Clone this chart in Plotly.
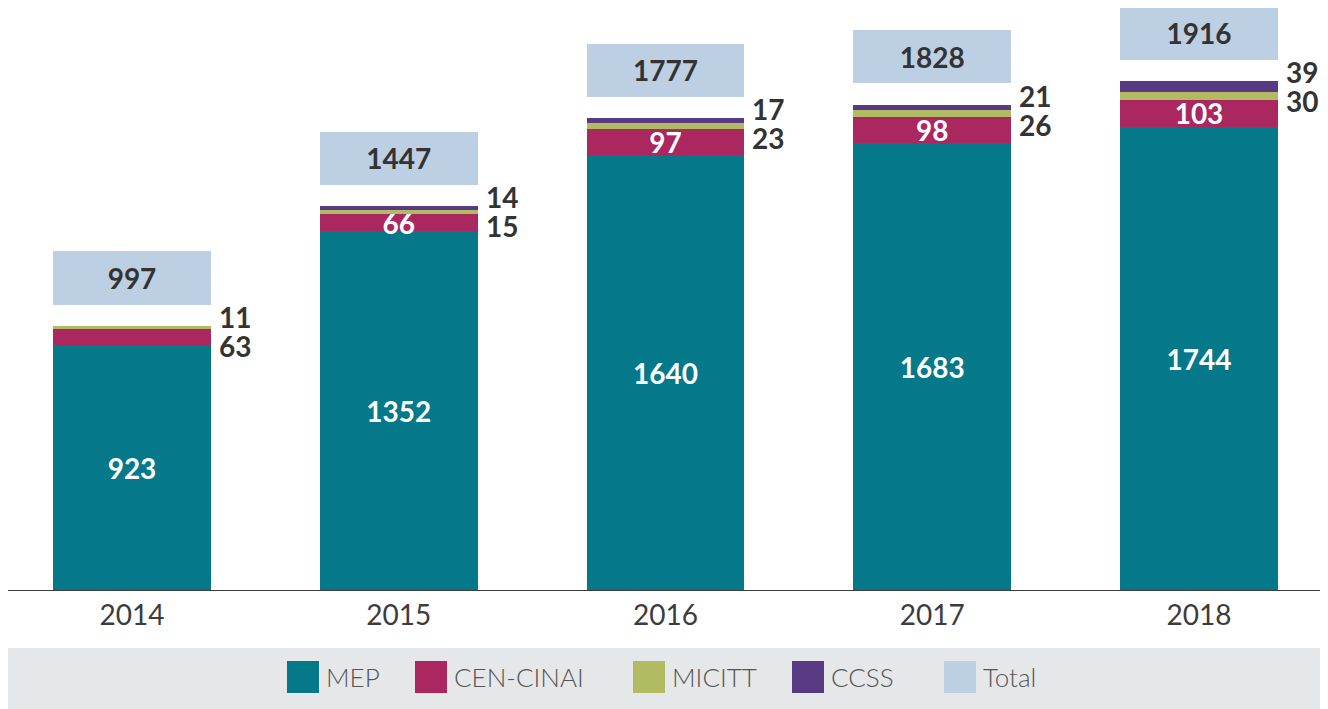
import plotly.graph_objects as go

# ---- data ----
years = ["2014", "2015", "2016", "2017", "2018"]
mep = [923, 1352, 1640, 1683, 1744]
cen_cinai = [63, 66, 97, 98, 103]
micitt = [11, 15, 23, 26, 30]
ccss = [0, 14, 17, 21, 39]
total = [997, 1447, 1777, 1828, 1916]
series_names = ["MEP", "CEN-CINAI", "MICITT", "CCSS", "Total"]

# ---- styles ----
colors = ["#05788a", "#ab2760", "#b0bb64", "#583a83", "#bccfe3"]
DARK = "#333333"
FONT = "Lato"
LIGHT_FONT = "Lato Light, Lato"
NUM_SIZE = 28
BAR_W = 0.592
GAP_UNITS = 80      # white gap between stack top and total box
BOX_UNITS = 200     # height of total box
W, H = 1320, 701    # page body adds an 8px margin
AXIS_PX = 583       # pixel row of the x axis inside the figure
PLOT_B = H - AXIS_PX
Y_TOP = AXIS_PX / 0.266
CENTER0 = 124
STEP = 266.75

series_vals = [mep, cen_cinai, micitt, ccss]
n = len(years)

# which small segments are labelled outside (the top two non-zero ones above MEP)
outside = {}
for j in range(n):
    outside[j] = [k for k in (3, 2, 1) if series_vals[k][j] > 0][:2]

fig = go.Figure()
for k in range(4):
    texts = []
    for j in range(n):
        v = series_vals[k][j]
        texts.append(str(v) if (v > 0 and k not in outside[j]) else "")
    fig.add_bar(
        x=years, y=series_vals[k], name=series_names[k], width=BAR_W,
        marker=dict(color=colors[k], line=dict(width=0)),
        text=texts, textposition="inside", insidetextanchor="middle", textangle=0,
        textfont=dict(family=FONT, size=NUM_SIZE, color="white", weight="bold"),
        showlegend=False, hoverinfo="x+y+name",
    )

# transparent spacer, then total box stacked on top
fig.add_bar(x=years, y=[GAP_UNITS] * n, width=BAR_W,
            marker=dict(color="rgba(0,0,0,0)", line=dict(width=0)),
            showlegend=False, hoverinfo="skip")
fig.add_bar(
    x=years, y=[BOX_UNITS] * n, name="Total", width=BAR_W,
    marker=dict(color=colors[4], line=dict(width=0)),
    text=[str(t) for t in total], textposition="inside", insidetextanchor="middle",
    textangle=0, textfont=dict(family=FONT, size=NUM_SIZE, color=DARK, weight="bold"),
    showlegend=False, hovertext=[str(t) for t in total], hoverinfo="x+text",
)

annotations = []
for j in range(n):
    top = sum(series_vals[k][j] for k in range(4))
    for pos, k in enumerate(outside[j]):
        annotations.append(dict(
            x=j + BAR_W / 2, y=top, xref="x", yref="y",
            text=str(series_vals[k][j]), showarrow=False,
            xanchor="left", yanchor="middle", xshift=6,
            yshift=9 if pos == 0 else -20,
            font=dict(family=FONT, size=NUM_SIZE, color=DARK, weight="bold"),
        ))

# custom legend (pixel positions inside the figure)
legend_x = [279, 407, 625, 784, 936]
SW = 32
leg_top, leg_bot = 653, 685
band_top = 640


def py(p):
    return -(p - AXIS_PX) / AXIS_PX


shapes = [
    dict(type="rect", xref="paper", yref="paper", x0=0, x1=1,
         y0=py(H), y1=py(band_top),
         fillcolor="#e6e7e9", line=dict(width=0), layer="below"),
    dict(type="line", xref="paper", yref="y", x0=0, x1=1, y0=0, y1=0,
         line=dict(color="#3c3c3c", width=2), layer="above"),
]
for i, name in enumerate(series_names):
    x0 = legend_x[i]
    shapes.append(dict(type="rect", xref="paper", yref="paper",
                       x0=x0 / W, x1=(x0 + SW) / W,
                       y0=py(leg_bot), y1=py(leg_top),
                       fillcolor=colors[i], line=dict(width=0)))
    annotations.append(dict(
        x=(x0 + SW + 5) / W, y=py((leg_top + leg_bot) / 2),
        xref="paper", yref="paper", text=name, showarrow=False,
        xanchor="left", yanchor="middle",
        font=dict(family=LIGHT_FONT, size=26, color="#555555", weight=300),
    ))

fig.update_layout(
    width=W, height=H, barmode="stack",
    margin=dict(l=0, r=0, t=0, b=PLOT_B, pad=0),
    paper_bgcolor="white", plot_bgcolor="white",
    showlegend=False,
    uniformtext=dict(minsize=NUM_SIZE, mode="show"),
    xaxis=dict(type="category", range=[-CENTER0 / STEP, (W - CENTER0) / STEP],
               showgrid=False, zeroline=False, showline=False, ticks="",
               ticklabelstandoff=5,
               tickfont=dict(family=FONT, size=28, color="#3c3c3c")),
    yaxis=dict(range=[0, Y_TOP], visible=False, fixedrange=True),
    shapes=shapes, annotations=annotations,
)

fig.write_html("out.html")
